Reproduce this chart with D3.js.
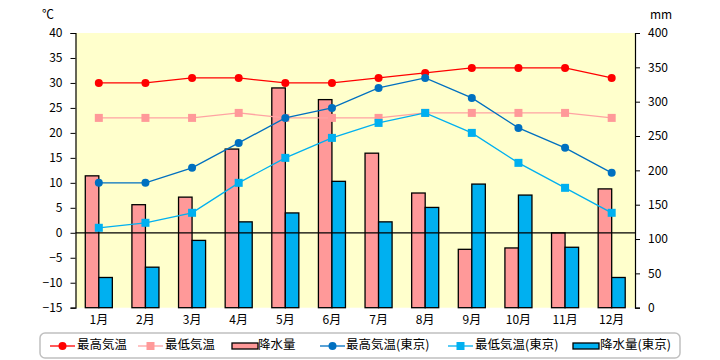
<!DOCTYPE html>
<html><head><meta charset="utf-8">
<script src="https://cdn.jsdelivr.net/npm/d3@7"></script>
<style>
body{margin:0;background:#fff;}
text{font-family:"Noto Sans CJK JP","Noto Sans",sans-serif;}
</style></head>
<body><svg id="c" width="720" height="360"></svg>
<script>
const months = ["1月","2月","3月","4月","5月","6月","7月","8月","9月","10月","11月","12月"];
const maxTemp = [30,30,31,31,30,30,31,32,33,33,33,31];
const minTemp = [23,23,23,24,23,23,23,24,24,24,24,23];
const precip = [192,150,161,231,320,303,225,167,85,87,109,173];
const maxTempTokyo = [10,10,13,18,23,25,29,31,27,21,17,12];
const minTempTokyo = [1,2,4,10,15,19,22,24,20,14,9,4];
const precipTokyo = [44,59,98,125,138,184,125,146,180,164,88,44];
const tempTicks = [-15,-10,-5,0,5,10,15,20,25,30,35,40];
const mmTicks = [0,50,100,150,200,250,300,350,400];
const legendLabels = ["最高気温","最低気温","降水量","最高気温(東京)","最低気温(東京)","降水量(東京)"];

const svg = d3.select("#c");
const L=75.5, R=635, T=33, B=307.7;
const x = d3.scaleBand().domain(months).range([L,R]);
const yT = d3.scaleLinear().domain([-15,40]).range([B,T]);
const yP = d3.scaleLinear().domain([0,400]).range([B,T]);

const C = {red:"#FF0000", pink:"#FF9999", pinkLine:"#FFA3A3", dblue:"#0070C0", lblue:"#00B0F0", yellow:"#FFFFCC"};

svg.append("rect").attr("x",L).attr("y",T).attr("width",R-L).attr("height",B-T).attr("fill",C.yellow);

// bars
const bw = x.bandwidth()*0.29;
const cx = m => x(m)+x.bandwidth()/2;
svg.append("g").selectAll("rect").data(months).join("rect")
  .attr("x",m=>cx(m)-bw).attr("width",bw)
  .attr("y",(m,i)=>yP(precip[i])).attr("height",(m,i)=>yP(0)-yP(precip[i]))
  .attr("fill",C.pink).attr("stroke","#000").attr("stroke-width",1.3);
svg.append("g").selectAll("rect").data(months).join("rect")
  .attr("x",m=>cx(m)).attr("width",bw)
  .attr("y",(m,i)=>yP(precipTokyo[i])).attr("height",(m,i)=>yP(0)-yP(precipTokyo[i]))
  .attr("fill",C.lblue).attr("stroke","#000").attr("stroke-width",1.3);

// zero line
svg.append("line").attr("x1",L).attr("x2",R).attr("y1",yT(0)).attr("y2",yT(0)).attr("stroke","#000").attr("stroke-width",1.2);

// axes
const ax = svg.append("g").attr("transform",`translate(${L},0)`)
  .call(d3.axisLeft(yT).tickValues(tempTicks).tickSize(5).tickPadding(8));
const ax2 = svg.append("g").attr("transform",`translate(${R},0)`)
  .call(d3.axisRight(yP).tickValues(mmTicks).tickSize(5).tickPadding(8));
[ax,ax2].forEach(a=>{
  a.select(".domain").attr("stroke","#000").attr("stroke-width",1.2);
  a.selectAll("line").attr("stroke","#000");
  a.selectAll("text").attr("font-size",12).attr("fill","#000");
});
svg.append("g").selectAll("text").data(months).join("text")
  .attr("x",cx).attr("y",321).attr("text-anchor","middle").attr("dominant-baseline","middle")
  .attr("font-size",12).text(d=>d);

svg.append("text").attr("x",48).attr("y",16).attr("text-anchor","middle").attr("dominant-baseline","middle").attr("font-size",12).text("℃");
svg.append("text").attr("x",661).attr("y",16).attr("text-anchor","middle").attr("dominant-baseline","middle").attr("font-size",12).text("mm");

// lines
function series(data,color,lineColor,shape){
  const line = d3.line().x((d,i)=>cx(months[i])).y(d=>yT(d));
  svg.append("path").datum(data).attr("d",line).attr("fill","none").attr("stroke",lineColor).attr("stroke-width",1.3);
  const g = svg.append("g");
  if(shape==="c"){
    g.selectAll("circle").data(data).join("circle").attr("cx",(d,i)=>cx(months[i])).attr("cy",d=>yT(d)).attr("r",4).attr("fill",color);
  } else {
    g.selectAll("rect").data(data).join("rect").attr("x",(d,i)=>cx(months[i])-4).attr("y",d=>yT(d)-4).attr("width",8).attr("height",8).attr("fill",color);
  }
}
series(maxTemp,C.red,C.red,"c");
series(minTemp,C.pink,C.pinkLine,"s");
series(maxTempTokyo,C.dblue,C.dblue,"c");
series(minTempTokyo,C.lblue,C.lblue,"s");

// legend
svg.append("rect").attr("x",40).attr("y",333).attr("width",640).attr("height",25).attr("rx",5)
  .attr("fill","#fff").attr("stroke","#C0C0C0").attr("stroke-width",1.5);
const leg = [
  {x:50, type:"c", color:C.red, line:C.red, tx:77},
  {x:138, type:"s", color:C.pink, line:C.pinkLine, tx:165},
  {x:232, type:"b", color:C.pink, tx:258},
  {x:320, type:"c", color:C.dblue, line:C.dblue, tx:346},
  {x:448, type:"s", color:C.lblue, line:C.lblue, tx:475},
  {x:573, type:"b", color:C.lblue, tx:600}
];
const ly = 346;
leg.forEach((d,i)=>{
  if(d.type==="b"){
    svg.append("rect").attr("x",d.x).attr("y",ly-3).attr("width",26).attr("height",6).attr("fill",d.color).attr("stroke","#000").attr("stroke-width",1.3);
  } else {
    svg.append("line").attr("x1",d.x).attr("x2",d.x+25).attr("y1",ly).attr("y2",ly).attr("stroke",d.line).attr("stroke-width",1.3);
    if(d.type==="c") svg.append("circle").attr("cx",d.x+12.5).attr("cy",ly).attr("r",4).attr("fill",d.color);
    else svg.append("rect").attr("x",d.x+8.5).attr("y",ly-4).attr("width",8).attr("height",8).attr("fill",d.color);
  }
  svg.append("text").attr("x",d.tx).attr("y",ly).attr("dominant-baseline","middle").attr("font-size",12.5).text(legendLabels[i]);
});
</script></body></html>
